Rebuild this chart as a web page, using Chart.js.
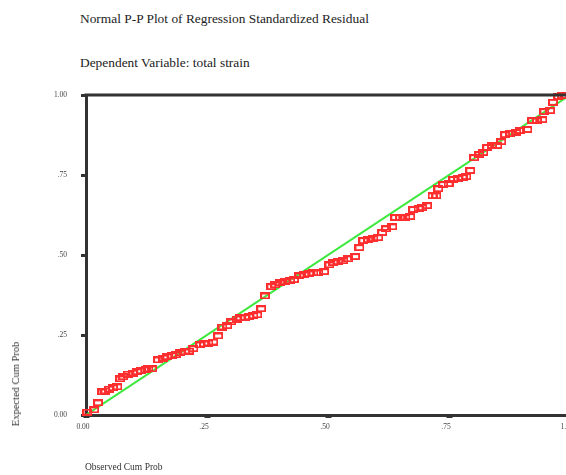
<!DOCTYPE html>
<html>
<head>
<meta charset="utf-8">
<script src="https://cdn.jsdelivr.net/npm/chart.js@4"></script>
<style>
  body { margin: 0; background: #fff; overflow: hidden; }
  #wrap { position: relative; width: 566px; height: 475px; overflow: hidden; }
  #ppChart { position: absolute; left: 0; top: 0; }
  .txt { position: absolute; font-family: "Liberation Serif", serif; color: #222; white-space: nowrap; }
  #title { left: 80px; top: 11px; font-size: 13.4px; line-height: 15px; }
  #subtitle { left: 80px; top: 55px; font-size: 13.4px; line-height: 15px; }
  #xTitle { left: 85px; top: 462px; font-size: 9.5px; line-height: 11px; color: #333; }
  #yTitle { left: 16px; top: 384px; font-size: 10.5px; line-height: 12px; color: #333;
            transform: translate(-50%, -50%) rotate(-90deg); }
</style>
</head>
<body>
<div id="wrap">
  <div class="txt" id="title">Normal P-P Plot of Regression Standardized Residual</div>
  <div class="txt" id="subtitle">Dependent Variable: total strain</div>
  <canvas id="ppChart" width="600" height="475"></canvas>
  <div class="txt" id="xTitle">Observed Cum Prob</div>
  <div class="txt" id="yTitle">Expected Cum Prob</div>
</div>
<script>
// Observed cum prob (x) and expected cum prob (y)
var observedProb = [0.003, 0.017, 0.025, 0.034, 0.040, 0.048, 0.056, 0.065, 0.071, 0.077,
  0.087, 0.098, 0.106, 0.114, 0.123, 0.129, 0.137, 0.149, 0.160, 0.168,
  0.178, 0.186, 0.195, 0.205, 0.213, 0.222, 0.236, 0.244, 0.253, 0.263,
  0.273, 0.282, 0.292, 0.300, 0.311, 0.319, 0.329, 0.337, 0.346, 0.354,
  0.362, 0.370, 0.383, 0.391, 0.401, 0.412, 0.422, 0.430, 0.441, 0.451,
  0.461, 0.470, 0.480, 0.492, 0.503, 0.511, 0.521, 0.532, 0.542, 0.556,
  0.565, 0.573, 0.583, 0.594, 0.604, 0.612, 0.620, 0.633, 0.639, 0.649,
  0.660, 0.670, 0.676, 0.687, 0.695, 0.705, 0.716, 0.724, 0.728, 0.738,
  0.749, 0.759, 0.769, 0.778, 0.786, 0.794, 0.802, 0.813, 0.821, 0.829,
  0.839, 0.850, 0.858, 0.866, 0.877, 0.889, 0.897, 0.912, 0.922, 0.932,
  0.943, 0.947, 0.959, 0.965, 0.976, 0.984, 0.990];
var expectedProb = [0.009, 0.016, 0.038, 0.072, 0.075, 0.081, 0.085, 0.088, 0.113, 0.119,
  0.128, 0.131, 0.135, 0.138, 0.141, 0.144, 0.144, 0.172, 0.178, 0.182,
  0.185, 0.188, 0.194, 0.197, 0.200, 0.207, 0.219, 0.222, 0.225, 0.228,
  0.247, 0.275, 0.279, 0.291, 0.300, 0.304, 0.304, 0.307, 0.310, 0.313,
  0.332, 0.372, 0.401, 0.407, 0.413, 0.416, 0.419, 0.423, 0.435, 0.438,
  0.441, 0.444, 0.444, 0.448, 0.469, 0.476, 0.479, 0.482, 0.488, 0.495,
  0.523, 0.545, 0.548, 0.551, 0.554, 0.570, 0.582, 0.588, 0.617, 0.617,
  0.617, 0.620, 0.642, 0.645, 0.648, 0.654, 0.685, 0.685, 0.707, 0.720,
  0.723, 0.736, 0.739, 0.742, 0.745, 0.764, 0.804, 0.814, 0.820, 0.836,
  0.842, 0.842, 0.854, 0.876, 0.879, 0.883, 0.889, 0.892, 0.920, 0.920,
  0.923, 0.948, 0.951, 0.977, 0.995, 0.998, 0.998];

// Reference diagonal
var diagX = [0, 1];
var diagY = [0, 1];

var tickValues = [0, 0.25, 0.5, 0.75, 1];
var tickLabels = ["0.00", ".25", ".50", ".75", "1.00"];

// hollow red rectangle marker
function makeMarker() {
  var c = document.createElement("canvas");
  c.width = 10;
  c.height = 7;
  var g = c.getContext("2d");
  g.strokeStyle = "#ff2e2e";
  g.lineWidth = 2;
  g.strokeRect(1, 1, 8, 5);
  return c;
}

function tickLabel(value) {
  var i = tickValues.indexOf(value);
  return i >= 0 ? tickLabels[i] : "";
}

// top edge of the plot frame
var framePlugin = {
  id: "frame",
  afterDraw: function(chart) {
    var a = chart.chartArea, ctx = chart.ctx;
    ctx.save();
    ctx.strokeStyle = "#333";
    ctx.lineWidth = 3;
    ctx.beginPath();
    ctx.moveTo(a.left - 1.5, a.top);
    ctx.lineTo(a.right, a.top);
    ctx.stroke();
    ctx.restore();
  }
};

var tickFont = { family: "Liberation Serif", size: 7.5 };

var ctx = document.getElementById("ppChart").getContext("2d");
var ppChart = new Chart(ctx, {
  type: "scatter",
  data: {
    datasets: [
      {
        label: "Residual",
        data: observedProb.map(function(x, i) { return { x: x, y: expectedProb[i] }; }),
        pointStyle: makeMarker(),
        pointRadius: 5,
        clip: false,
        order: 0
      },
      {
        label: "Diagonal",
        data: diagX.map(function(x, i) { return { x: x, y: diagY[i] }; }),
        showLine: true,
        borderColor: "#3ee83e",
        borderWidth: 2,
        pointRadius: 0,
        order: 1
      }
    ]
  },
  options: {
    responsive: false,
    devicePixelRatio: 1,
    animation: false,
    layout: { padding: { left: 0, top: 95, right: 30, bottom: 0 } },
    plugins: {
      legend: { display: false },
      tooltip: { enabled: false }
    },
    scales: {
      x: {
        min: 0,
        max: 1,
        afterFit: function(s) { s.height = 60; },
        afterBuildTicks: function(s) { s.ticks = tickValues.map(function(v) { return { value: v }; }); },
        grid: { drawOnChartArea: false, tickLength: 3, tickWidth: 6, tickColor: "#333" },
        border: { color: "#333", width: 3 },
        ticks: { callback: tickLabel, font: tickFont, color: "#444", padding: 5, labelOffset: -3,
                 maxRotation: 0, autoSkip: false }
      },
      y: {
        min: 0,
        max: 1,
        afterFit: function(s) { s.width = 86; },
        afterBuildTicks: function(s) { s.ticks = tickValues.map(function(v) { return { value: v }; }); },
        grid: { drawOnChartArea: false, tickLength: 5, tickWidth: 3, tickColor: "#333" },
        border: { color: "#333", width: 3 },
        ticks: { callback: tickLabel, font: tickFont, color: "#444", padding: 14, autoSkip: false }
      }
    }
  },
  plugins: [framePlugin]
});
</script>
</body>
</html>
